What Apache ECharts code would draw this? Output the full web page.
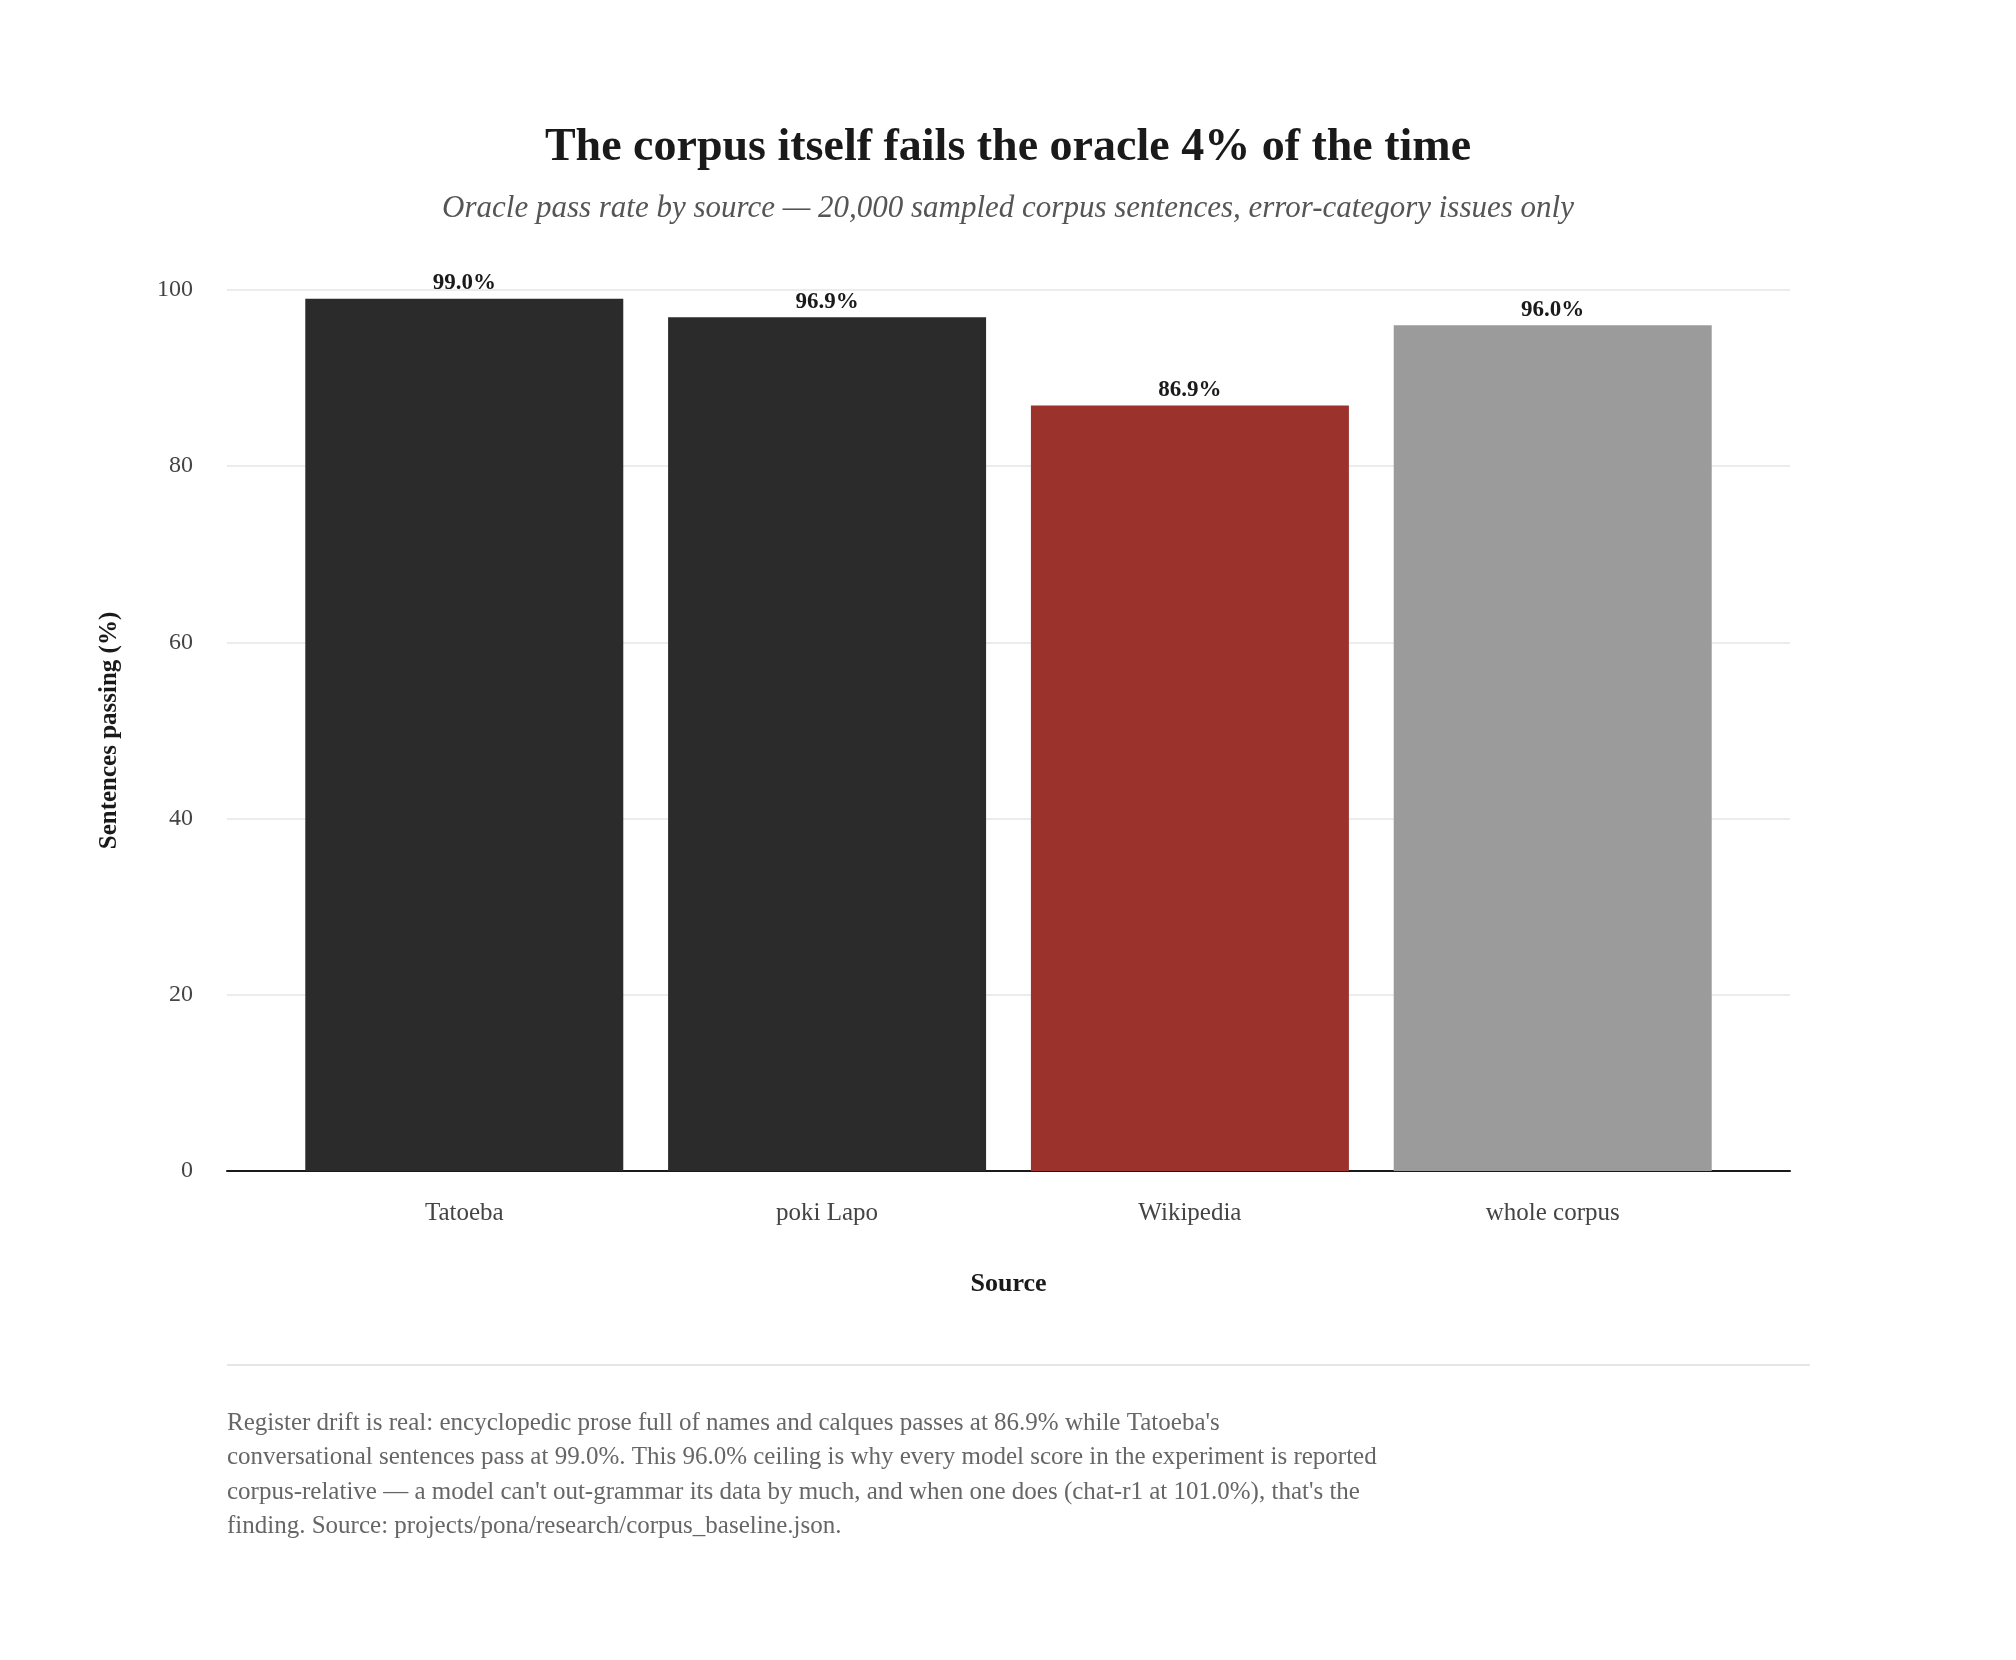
<!DOCTYPE html>
<html><head><meta charset="utf-8">
<script src="https://cdn.jsdelivr.net/npm/echarts@6/dist/echarts.min.js"></script>
<style>html,body{margin:0;background:#fff}#c{width:2016px;height:1660px}</style>
</head><body><div id="c"></div>
<script>
const categories = ['Tatoeba', 'poki Lapo', 'Wikipedia', 'whole corpus'];
const values = [99.0, 96.9, 86.9, 96.0];
const colors = ['#2b2b2b', '#2b2b2b', '#9b332c', '#9b9b9b'];
const yTicks = [0, 20, 40, 60, 80, 100];
const footnote = "Register drift is real: encyclopedic prose full of names and calques passes at 86.9% while Tatoeba's\nconversational sentences pass at 99.0%. This 96.0% ceiling is why every model score in the experiment is reported\ncorpus-relative \u2014 a model can't out-grammar its data by much, and when one does (chat-r1 at 101.0%), that's the\nfinding. Source: projects/pona/research/corpus_baseline.json.";
const F = '"Liberation Serif", "DejaVu Serif", serif';
const idx = categories.map((c, i) => i);
const chart = echarts.init(document.getElementById('c'));
chart.setOption({
  backgroundColor: '#fff',
  animation: false,
  title: {
    text: 'The corpus itself fails the oracle 4% of the time',
    subtext: 'Oracle pass rate by source \u2014 20,000 sampled corpus sentences, error-category issues only',
    left: 'center', top: 120, itemGap: 22,
    textStyle: { fontFamily: F, fontSize: 46, fontWeight: 'bold', color: '#1a1a1a' },
    subtextStyle: { fontFamily: F, fontSize: 31, fontStyle: 'italic', color: '#555' }
  },
  grid: { left: 227, right: 226, top: 290, bottom: 489, containLabel: false },
  xAxis: {
    type: 'value', min: -0.654, max: 3.654,
    name: 'Source', nameLocation: 'middle', nameGap: 100,
    nameTextStyle: { fontFamily: F, fontSize: 26, fontWeight: 'bold', color: '#1a1a1a' },
    axisLine: { show: true, onZero: false, lineStyle: { color: '#1a1a1a', width: 2 } },
    axisTick: { show: false },
    splitLine: { show: false },
    axisLabel: { customValues: idx, fontFamily: F, fontSize: 25, color: '#444', margin: 30,
      formatter: v => categories[Math.round(v)] ?? '' }
  },
  yAxis: {
    type: 'value', min: 0, max: 100, interval: 20,
    name: 'Sentences passing (%)', nameLocation: 'middle', nameGap: 105,
    nameTextStyle: { fontFamily: F, fontSize: 25, fontWeight: 'bold', color: '#1a1a1a' },
    axisLine: { show: false }, axisTick: { show: false },
    axisLabel: { fontFamily: F, fontSize: 24, color: '#444', margin: 34,
      formatter: v => yTicks.includes(v) ? String(v) : '' },
    splitLine: { lineStyle: { color: '#e6e6e6', width: 1.5 } }
  },
  series: [{
    type: 'bar', barWidth: 318,
    data: values.map((v, i) => ({ value: [i, v], itemStyle: { color: colors[i] } })),
    label: { show: true, position: 'top', distance: 4, fontFamily: F, fontSize: 23,
      fontWeight: 'bold', color: '#1a1a1a', formatter: p => p.value[1].toFixed(1) + '%' }
  }],
  graphic: [
    { type: 'rect', shape: { x: 227, y: 1364, width: 1583, height: 2 }, style: { fill: '#e6e6e6' } },
    { type: 'text', left: 227, top: 1406,
      style: { text: footnote, fontFamily: F, fontSize: 25, lineHeight: 34.5, fill: '#666' } }
  ]
});
</script></body></html>
